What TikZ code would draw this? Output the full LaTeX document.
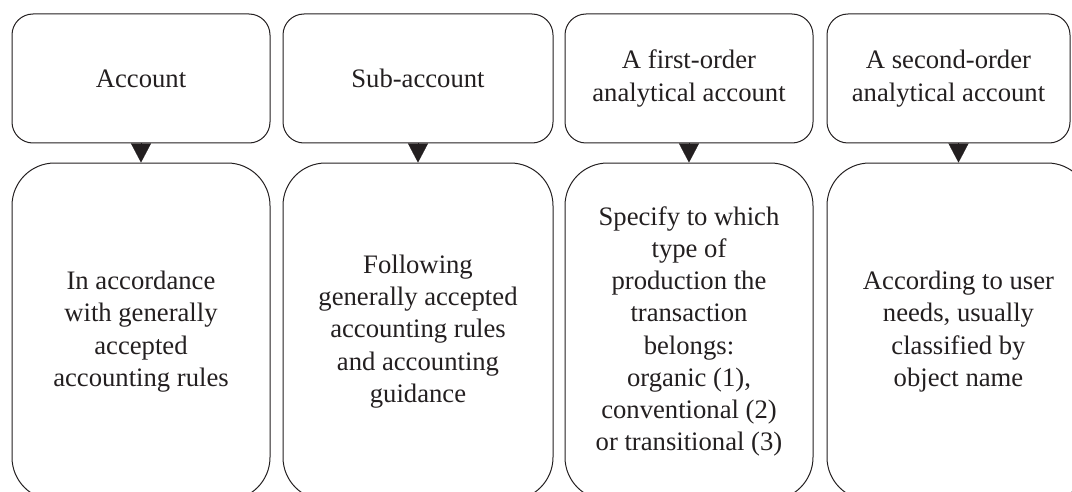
\documentclass[tikz,border=0pt]{standalone}
\usepackage{fontspec}
\setmainfont{Liberation Serif}
\usetikzlibrary{arrows.meta}
\definecolor{ink}{RGB}{35,31,32}
\tikzset{every picture/.style={line width=0.75pt}}

\begin{document}
\begin{tikzpicture}[x=0.75pt,y=0.75pt,yscale=-1,xscale=1,
	topbox/.style={draw=ink, rounded corners=15.75pt, minimum height=96.75pt, inner sep=0pt, align=center, text=ink, font=\fontsize{20}{24.2}\selectfont},
	botbox/.style={draw=ink, rounded corners=32pt, minimum height=252.75pt, inner sep=0pt, align=center, text=ink, font=\fontsize{20}{24.2}\selectfont},
	down/.style={draw=ink, fill=ink, line width=0.1pt, -{Triangle[width=15pt,length=14.25pt]}}]
	\useasboundingbox (0,0) rectangle (1072,492);
	\clip (0,0) rectangle (1072,492);

	%Shape: Rounded Rect [id:account]
	\node [topbox, minimum width=193.5pt] (acc) at (141,78.5) {Account};
	%Shape: Rounded Rect [id:subaccount]
	\node [topbox, minimum width=202.5pt] (sub) at (418,78.5) {Sub-account};
	%Shape: Rounded Rect [id:firstorder]
	\node [topbox, minimum width=186pt] (first) at (689,78.5) {A first-order\\analytical account};
	%Shape: Rounded Rect [id:secondorder]
	\node [topbox, minimum width=182.25pt] (second) at (948.5,78.5) {A second-order\\analytical account};

	%Shape: Rounded Rect [id:accountrule]
	\node [botbox, minimum width=193.5pt] (accrule) at (141,331.5) {In accordance\\with generally\\accepted\\accounting rules};
	%Shape: Rounded Rect [id:subrule]
	\node [botbox, minimum width=202.5pt] (subrule) at (418,331.5) {Following\\generally accepted\\accounting rules\\and accounting\\guidance};
	%Shape: Rounded Rect [id:firstrule]
	\node [botbox, minimum width=186pt] (firstrule) at (689,331.5) {Specify to which\\type of\\production the\\transaction\\belongs:\\organic (1),\\conventional (2)\\or transitional (3)};
	%Shape: Rounded Rect [id:secondrule]
	\node [botbox, minimum width=197.25pt] (secondrule) at (958.5,331.5) {According to user\\needs, usually\\classified by\\object name};

	%Straight Lines [id:arrows]
	\draw [down] (acc.south) -- (accrule.north);
	\draw [down] (sub.south) -- (subrule.north);
	\draw [down] (first.south) -- (firstrule.north);
	\draw [down] (secondrule.north |- second.south) -- (secondrule.north);

\end{tikzpicture}
\end{document}
